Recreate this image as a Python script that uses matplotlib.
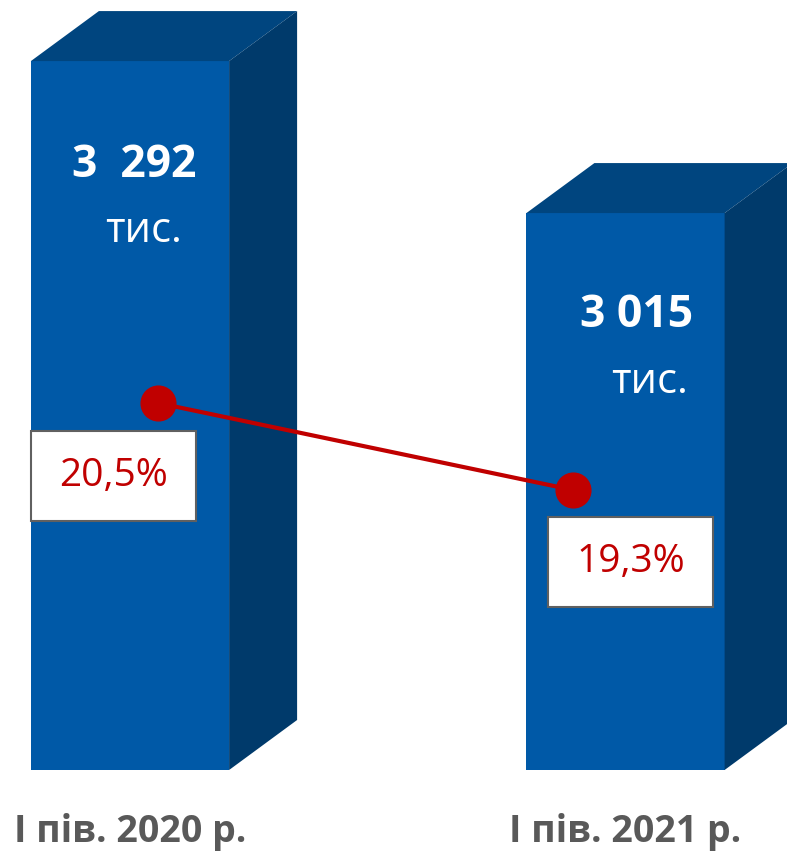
import matplotlib
matplotlib.use("Agg")
import matplotlib.pyplot as plt
from matplotlib.patches import Polygon, Rectangle
from matplotlib.transforms import IdentityTransform

plt.rcParams['font.family'] = ['Open Sans', 'DejaVu Sans']

categories = ["І пів. 2020 р.", "І пів. 2021 р."]
values = [3292, 3015]
value_labels = ["3  292", "3 015"]
unit_label = "тис."
shares = [20.5, 19.3]
share_labels = ["20,5%", "19,3%"]

FRONT = "#0059A7"
TOP = "#00457F"
SIDE = "#003A6B"
RED = "#C00000"

W, H = 787, 852
fig = plt.figure(figsize=(W / 100, H / 100), dpi=100)
ax = fig.add_axes([0, 82 / H, 1, 770 / H])
x = [0, 1]
ax.set_xlim(-130 / 495.5, (W - 130) / 495.5)
ax.set_ylim(2000, 2000 + 770 / 0.5487)
bars = ax.bar(x, values, width=0.4, color=FRONT, zorder=2)
for s in ax.spines.values():
    s.set_visible(False)
ax.set_yticks([])
ax.set_xticks(x, categories)
ax.tick_params(axis='x', length=0, pad=31, labelsize=27, labelcolor="#595959")
for t in ax.get_xticklabels():
    t.set_fontweight('bold')

# 3D faces (depth in pixels)
dx, dy = 68, 50
fig.canvas.draw()
for b in bars:
    x0, x1 = b.get_x(), b.get_x() + b.get_width()
    (px0, py0), (px1, py1) = ax.transData.transform([(x0, 2000), (x1, b.get_height())])
    top = [(px0, py1), (px1, py1), (px1 + dx, py1 + dy), (px0 + dx, py1 + dy)]
    side = [(px1, py0), (px1, py1), (px1 + dx, py1 + dy), (px1 + dx, py0 + dy)]
    for pts, c in ((top, TOP), (side, SIDE)):
        ax.add_patch(Polygon(pts, closed=True, facecolor=c, edgecolor='none',
                             transform=IdentityTransform(), clip_on=False, zorder=2))

# value labels
val_off = [(4, -104), (11, -102)]
unit_off = [(14, -170), (24, -169)]
for xi, v, lab, vo, uo in zip(x, values, value_labels, val_off, unit_off):
    ax.annotate(lab, (xi, v), xytext=vo, textcoords='offset pixels', ha='center', va='center',
                color='white', fontsize=32, fontweight='bold', zorder=5)
    ax.annotate(unit_label, (xi, v), xytext=uo, textcoords='offset pixels', ha='center', va='center',
                color='white', fontsize=30, zorder=5)

# share line on overlay axes
ax2 = fig.add_axes([0, 82 / H, 1, 770 / H], facecolor='none')
ax2.set_xlim(-158 / 415, (W - 158) / 415)
ax2.set_ylim(20.5 - 367 / 72.5, 20.5 - 367 / 72.5 + 770 / 72.5)
ax2.axis('off')
ax2.plot(x, shares, color=RED, lw=3, marker='o', markersize=25, zorder=3)
fig.canvas.draw()
box_off = [(-127, -118), (-25, -117)]  # left, bottom offsets
box_w, box_h = 165, 90
for xi, sv, lab, (bx, by) in zip(x, shares, share_labels, box_off):
    px, py = ax2.transData.transform((xi, sv))
    ax2.add_patch(Rectangle((px + bx, py + by), box_w, box_h, facecolor='white',
                            edgecolor='#606060', lw=1.5, transform=IdentityTransform(),
                            clip_on=False, zorder=4))
    ax2.text(px + bx + box_w / 2, py + by + box_h / 2, lab, transform=IdentityTransform(),
             ha='center', va='center', color=RED, fontsize=28, zorder=5)

fig.savefig("out.png", dpi=100)
